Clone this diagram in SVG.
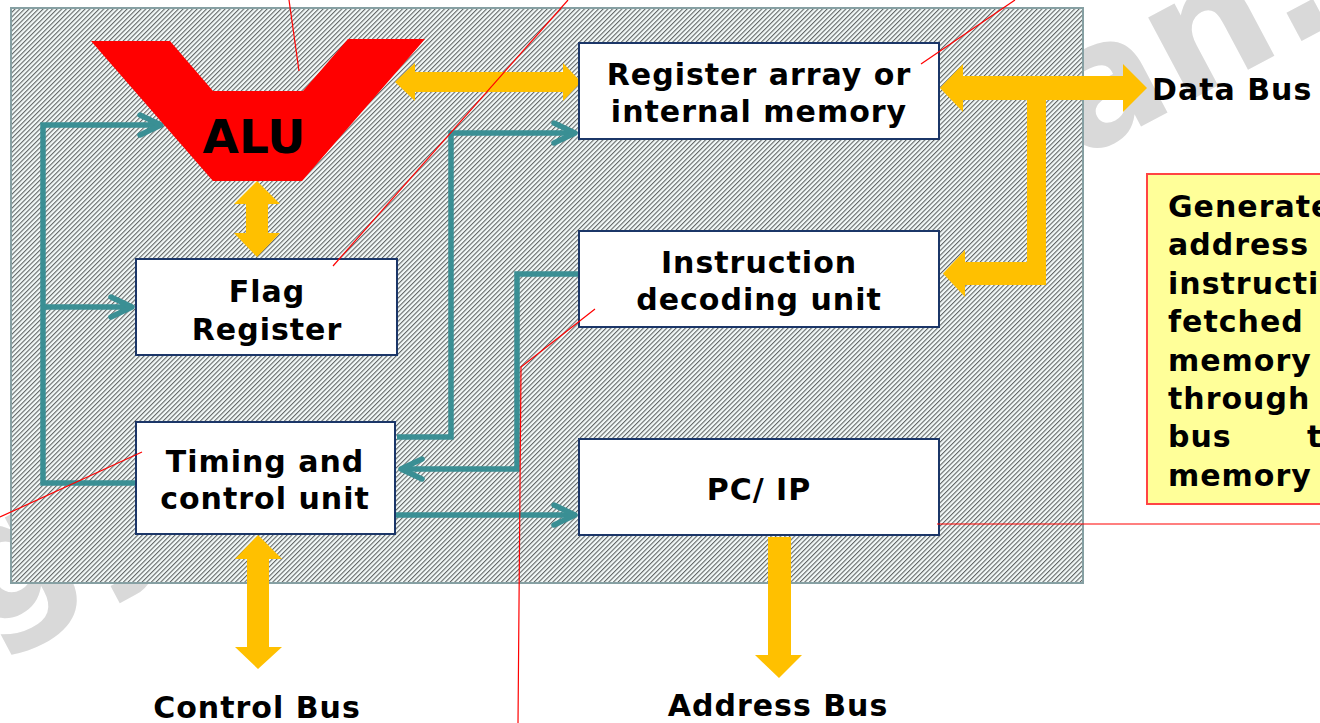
<svg xmlns="http://www.w3.org/2000/svg" width="1320" height="723" viewBox="0 0 1320 723">
<defs>
<pattern id="hatch" width="3.3" height="3.3" patternUnits="userSpaceOnUse" patternTransform="rotate(45)">
<rect width="3.3" height="3.3" fill="#f3faf9"/>
<rect width="1.1" height="3.3" fill="#636767"/>
</pattern>
<marker id="ta" viewBox="-28 -14 32 28" refX="0" refY="0" markerWidth="32" markerHeight="28" markerUnits="userSpaceOnUse" orient="auto">
<path d="M-21,-10 L0,0 L-21,10" fill="none" stroke="#3a8f94" stroke-width="5.5" stroke-linecap="round" stroke-linejoin="round"/>
</marker>
</defs>
<style>
.wm{font-family:"DejaVu Sans",Verdana,sans-serif;font-weight:bold;font-size:170px;fill:#d9d9d9}
.box{fill:#ffffff;stroke:#1b3668;stroke-width:2}
.t{font-family:"DejaVu Sans",Verdana,sans-serif;font-weight:bold;font-size:30px;letter-spacing:1px;fill:#000000}
.c{text-anchor:middle}
.tl{fill:none;stroke:#3a8f94;stroke-width:5.5}
.ya{fill:#ffc000}
.red{fill:none;stroke:#ff0000;stroke-width:1.2}
</style>
<rect width="1320" height="723" fill="#ffffff"/>
<g id="watermark">
<text class="wm" transform="translate(1078,160) rotate(-28)">an.</text>
<text class="wm" transform="translate(-20,636) rotate(-28)">gy</text>
</g>
<rect id="panel" x="11" y="8" width="1072" height="575" fill="url(#hatch)" stroke="#86a0a3" stroke-width="2"/>
<g id="connectors">
<path class="tl" d="M136,483 H43 V125 H161" marker-end="url(#ta)"/>
<path class="tl" d="M43,307 H132" marker-end="url(#ta)"/>
<path class="tl" d="M397,437 H451 V133 H575" marker-end="url(#ta)"/>
<path class="tl" d="M579,274 H517 V469 H401" marker-end="url(#ta)"/>
<path class="tl" d="M395,515 H575" marker-end="url(#ta)"/>
<polygon class="ya" points="395,82 415,63 415,72 563,72 563,63 581,82 563,101 563,92 415,92 415,101"/>
<polygon class="ya" points="257,181 280,204 268,204 268,233 280,233 257,257 234,233 246,233 246,204 234,204"/>
<polygon class="ya" points="940,88 963,64 963,76 1123,76 1123,64 1147,88 1123,112 1123,100 1046,100 1046,285 965,285 965,297 943,273.5 965,250 965,262 1027,262 1027,100 963,100 963,112"/>
<polygon class="ya" points="258,535 282,559 269,559 269,647 282,647 258,669 235,647 247,647 247,559 235,559"/>
<polygon class="ya" points="768,537 791,537 791,655 802,655 779,678 755,655 768,655"/>
</g>
<g id="alu">
<polygon points="91,41 170,41 213,91 303,91 348,39 425,39 302,181 213,181" fill="#ff0000"/>
<text class="t c" x="254" y="153" style="font-size:47px;letter-spacing:0">ALU</text>
</g>
<g id="register-array">
<rect class="box" x="579" y="43" width="360" height="96"/>
<text class="t c" x="759" y="85">Register array or</text>
<text class="t c" x="759" y="122">internal memory</text>
</g>
<g id="instruction-decoding">
<rect class="box" x="579" y="231" width="360" height="96"/>
<text class="t c" x="759" y="273">Instruction</text>
<text class="t c" x="759" y="310">decoding unit</text>
</g>
<g id="pc-ip">
<rect class="box" x="579" y="439" width="360" height="96"/>
<text class="t c" x="759" y="500">PC/ IP</text>
</g>
<g id="flag-register">
<rect class="box" x="136" y="259" width="261" height="96"/>
<text class="t c" x="267" y="302">Flag</text>
<text class="t c" x="267" y="340">Register</text>
</g>
<g id="timing-control">
<rect class="box" x="136" y="422" width="259" height="112"/>
<text class="t c" x="265" y="472">Timing and</text>
<text class="t c" x="265" y="509">control unit</text>
</g>
<g id="bus-labels">
<text class="t c" x="257" y="718">Control Bus</text>
<text class="t c" x="778" y="716">Address Bus</text>
<text class="t" x="1152" y="100">Data Bus</text>
</g>
<g id="note">
<rect x="1147" y="174" width="180" height="330" fill="#ffff99" stroke="#ff4444" stroke-width="2"/>
<text class="t" x="1168" y="217">Generate</text>
<text class="t" x="1168" y="255">address</text>
<text class="t" x="1168" y="294">instruction</text>
<text class="t" x="1168" y="332">fetched</text>
<text class="t" x="1168" y="371">memory</text>
<text class="t" x="1168" y="409">through</text>
<text class="t" x="1168" y="447">bus</text>
<text class="t" x="1307" y="447">to</text>
<text class="t" x="1168" y="486">memory</text>
</g>
<g id="annotation-lines">
<line class="red" x1="299" y1="71" x2="289" y2="0"/>
<line class="red" x1="333" y1="266" x2="568" y2="0"/>
<line class="red" x1="921" y1="64" x2="1015" y2="0"/>
<line class="red" x1="142" y1="452" x2="0" y2="517"/>
<polyline class="red" points="595,309 521,367 518,723"/>
<line class="red" x1="937" y1="524" x2="1320" y2="524"/>
</g>
</svg>
